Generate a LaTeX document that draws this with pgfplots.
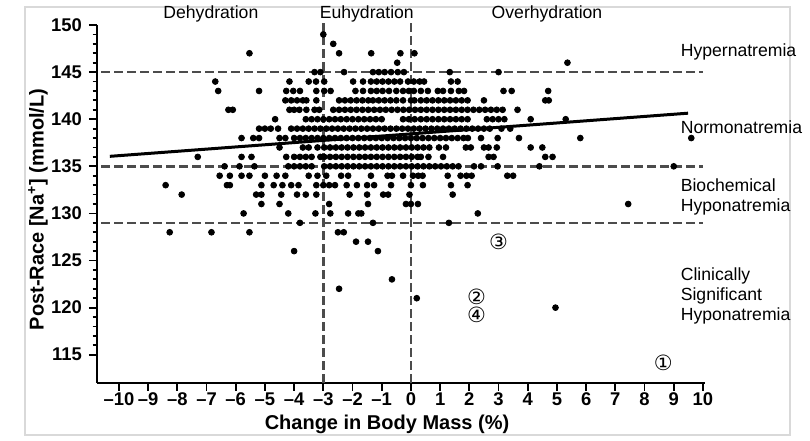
\documentclass[border=0pt]{standalone}
\usepackage{fontspec}
\setmainfont{Liberation Sans}
\newfontfamily\dejavu{DejaVu Sans}
\usepackage{pgfplots}
\pgfplotsset{compat=1.18}

\begin{document}
\begin{tikzpicture}
\path[use as bounding box] (-48.5pt,-28.5pt) rectangle (356.5pt,191.5pt);
\draw[black!15, line width=0.6pt] (-36pt,-26pt) rectangle (346.5pt,188pt);
\begin{axis}[
    at={(0pt,0pt)}, anchor=south west,
    scale only axis, width=304pt, height=179pt,
    xmin=-10.75, xmax=10.07, ymin=112, ymax=150,
    axis lines=left,
    axis line style={-, line width=1.1pt},
    tick align=outside,
    tick style={black, line width=0.9pt},
    major tick length=4pt, minor tick length=2.2pt,
    xtick={-10,-9,...,10},
    xticklabels={\textendash10,\textendash9,\textendash8,\textendash7,\textendash6,\textendash5,\textendash4,\textendash3,\textendash2,\textendash1,0,1,2,3,4,5,6,7,8,9,10},
    ytick={115,120,...,150},
    minor y tick num=4,
    /pgf/number format/assume math mode=true,
    tick label style={font=\bfseries\fontsize{9.2}{10}\selectfont},
    xticklabel style={yshift=2.5pt},
    xlabel={Change in Body Mass (\%)},
    ylabel={Post-Race [Na\textsuperscript{+}] (mmol/L)},
    label style={font=\bfseries\fontsize{10}{12}\selectfont},
    xlabel style={at={(axis description cs:0.477,-0.115)}, anchor=center},
    ylabel style={at={(axis description cs:-0.097,0.485)}, anchor=center},
    clip=false,
]
% participants
\addplot[only marks, mark=*, mark size=1.45pt, black] coordinates {
(-3.0,149)
(-2.66,148)
(-5.53,147) (-2.46,147) (-1.36,147) (-0.36,147) (0.12,147)
(-0.47,146) (5.36,146)
(-3.3,145) (-3.1,145) (-2.29,145) (-1.3,145) (-1.1,145) (-0.9,145) (-0.68,145) (-0.45,145) (-0.24,145) (1.33,145) (3.0,145)
(-6.7,144) (-4.16,144) (-3.5,144) (-3.25,144) (-2.97,144) (-1.98,144) (-1.64,144) (-1.37,144) (-1.17,144) (-0.97,144) (-0.77,144) (-0.57,144) (-0.37,144) (-0.1,144) (0.1,144) (0.3,144) (0.45,144) (1.37,144) (1.6,144)
(-6.6,143) (-5.2,143) (-4.27,143) (-4.03,143) (-3.8,143) (-3.24,143) (-2.97,143) (-2.75,143) (-1.9,143) (-1.64,143) (-1.37,143) (-1.17,143) (-0.97,143) (-0.75,143) (-0.5,143) (-0.27,143) (-0.07,143) (0.1,143) (0.34,143) (0.58,143) (0.92,143) (1.1,143) (1.37,143) (1.64,143) (1.82,143) (3.17,143) (3.45,143) (4.7,143)
(-4.3,142) (-4.1,142) (-3.9,142) (-3.7,142) (-3.58,142) (-3.24,142) (-2.46,142) (-2.26,142) (-2.06,142) (-1.86,142) (-1.66,142) (-1.46,142) (-1.3,142) (-1.1,142) (-0.9,142) (-0.7,142) (-0.5,142) (-0.27,142) (0.0,142) (0.12,142) (0.34,142) (0.54,142) (0.74,142) (0.94,142) (1.14,142) (1.34,142) (1.54,142) (1.74,142) (1.94,142) (2.5,142) (4.6,142) (4.72,142)
(-6.25,141) (-6.1,141) (-4.16,141) (-4.0,141) (-3.82,141) (-3.58,141) (-3.3,141) (-3.14,141)
(-2.66,141) (-2.46,141) (-2.26,141) (-2.06,141) (-1.86,141) (-1.66,141) (-1.46,141) (-1.26,141) (-1.06,141) (-0.86,141) (-0.66,141) (-0.46,141) (-0.26,141) (-0.06,141) (0.14,141) (0.34,141) (0.54,141) (0.74,141) (0.94,141) (1.14,141) (1.34,141) (1.54,141) (1.74,141) (1.94,141) (2.14,141) (2.34,141) (2.54,141) (2.74,141) (2.94,141) (3.14,141) (3.65,141)
(-4.65,140) (-3.6,140) (-3.4,140) (-3.2,140) (-3.0,140) (-2.8,140) (-2.6,140) (-2.4,140) (-2.2,140) (-2.0,140) (-1.8,140) (-1.6,140) (-1.4,140) (-1.2,140) (-1.0,140)
(-0.27,140) (-0.07,140) (0.13,140) (0.34,140) (0.54,140) (0.74,140) (0.94,140) (1.14,140) (1.34,140) (1.54,140) (1.74,140) (1.94,140) (2.6,140) (2.8,140) (3.0,140) (3.2,140) (4.1,140) (5.3,140)
(-5.2,139) (-5.0,139) (-4.8,139) (-4.55,139) (-4.1,139) (-3.9,139) (-3.7,139) (-3.5,139)
(-3.3,139) (-3.1,139) (-2.9,139) (-2.7,139) (-2.5,139) (-2.3,139) (-2.1,139) (-1.9,139) (-1.7,139) (-1.5,139) (-1.3,139) (-1.1,139) (-0.9,139) (-0.7,139) (-0.5,139) (-0.3,139) (-0.1,139) (0.1,139) (0.3,139) (0.5,139) (0.7,139) (0.9,139) (1.1,139) (1.3,139) (1.5,139) (1.7,139) (1.9,139) (2.1,139) (2.3,139) (2.5,139) (2.7,139) (3.1,139) (3.4,139)
(-5.8,138) (-5.4,138) (-5.2,138) (-4.5,138) (-4.3,138)
(-4.0,138) (-3.8,138) (-3.6,138) (-3.4,138) (-3.2,138) (-3.0,138) (-2.8,138) (-2.6,138) (-2.4,138) (-2.2,138) (-2.0,138) (-1.8,138) (-1.6,138) (-1.4,138) (-1.2,138) (-1.0,138) (-0.8,138) (-0.6,138) (-0.4,138) (-0.2,138) (0.0,138) (0.2,138) (0.4,138) (0.6,138) (0.8,138) (1.0,138) (1.2,138) (1.4,138) (1.6,138) (1.8,138) (1.95,138) (2.4,138) (2.97,138) (3.7,138) (5.8,138) (9.6,138)
(-4.5,137) (-3.7,137) (-3.5,137) (-3.2,137)
(-2.97,137) (-2.77,137) (-2.57,137) (-2.37,137) (-2.17,137) (-1.97,137) (-1.77,137) (-1.57,137) (-1.37,137) (-1.17,137) (-0.97,137) (-0.77,137) (-0.57,137) (-0.37,137) (-0.17,137) (0.03,137) (0.23,137) (0.43,137) (0.63,137) (0.96,137) (1.2,137) (1.88,137) (2.05,137) (2.5,137) (2.66,137) (2.94,137) (4.1,137) (4.5,137)
(-7.3,136) (-5.8,136) (-5.46,136) (-4.27,136) (-4.0,136) (-3.8,136) (-3.6,136) (-3.4,136) (-3.1,136)
(-2.97,136) (-2.77,136) (-2.57,136) (-2.37,136) (-2.17,136) (-1.97,136) (-1.77,136) (-1.57,136) (-1.37,136) (-1.17,136) (-0.97,136) (-0.77,136) (-0.57,136) (-0.37,136) (-0.17,136) (0.03,136) (0.23,136) (0.34,136) (0.6,136) (1.1,136) (2.66,136) (2.83,136) (4.6,136) (4.85,136)
(-6.38,135) (-5.87,135) (-5.36,135) (-4.2,135) (-4.0,135) (-3.8,135) (-3.6,135) (-3.4,135)
(-2.97,135) (-2.77,135) (-2.57,135) (-2.37,135) (-2.17,135) (-1.97,135) (-1.77,135) (-1.57,135) (-1.37,135) (-1.17,135) (-0.97,135) (-0.77,135) (-0.57,135) (-0.37,135) (-0.17,135) (0.03,135) (0.23,135) (0.43,135) (0.63,135) (0.83,135) (1.03,135) (1.23,135) (1.43,135) (1.63,135) (2.16,135) (2.4,135) (2.97,135) (4.4,135) (9.0,135)
(-6.55,134) (-6.2,134) (-5.8,134) (-5.53,134) (-5.0,134) (-4.6,134) (-4.3,134) (-3.5,134) (-3.2,134) (-2.9,134) (-2.39,134) (-2.15,134) (-1.37,134) (-0.8,134) (-0.65,134) (-0.27,134) (0.07,134) (0.25,134) (0.4,134) (1.26,134) (1.7,134) (1.9,134) (2.08,134) (3.3,134) (3.5,134)
(-8.4,133) (-6.3,133) (-6.2,133) (-5.12,133) (-4.7,133) (-4.4,133) (-4.1,133) (-3.85,133) (-3.24,133) (-3.0,133) (-2.8,133) (-2.6,133) (-2.2,133) (-1.85,133) (-1.5,133) (-1.26,133) (-0.68,133) (0.0,133) (0.41,133) (1.37,133) (1.94,133)
(-7.85,132) (-5.3,132) (-5.12,132) (-4.44,132) (-3.9,132) (-3.6,132) (-3.24,132) (-2.1,132) (-1.5,132) (-0.95,132) (-0.78,132) (-0.05,132) (1.43,132)
(-5.12,131) (-4.5,131) (-2.8,131) (-1.47,131) (-0.17,131) (0.0,131) (0.24,131) (7.44,131)
(-5.73,130) (-4.2,130) (-3.27,130) (-2.76,130) (-2.15,130) (-1.8,130) (-1.7,130) (2.29,130)
(-3.8,129) (-1.3,129) (1.3,129)
(-8.26,128) (-6.83,128) (-5.53,128) (-2.5,128) (-2.3,128)
(-1.88,127) (-1.47,127)
(-4.0,126) (-1.13,126)
(-0.65,123)
(-2.46,122)
(0.2,121)
(4.95,120)
};
% reference lines
\addplot[black!70, line width=1.2pt, dash pattern=on 4.5pt off 2pt] coordinates {(-10.6,145) (10,145)};
\addplot[black!70, line width=1.2pt, dash pattern=on 4.5pt off 2pt] coordinates {(-10.6,135) (10,135)};
\addplot[black!70, line width=1.2pt, dash pattern=on 4.5pt off 2pt] coordinates {(-10.6,129) (10,129)};
\addplot[black!70, line width=1.2pt, dash pattern=on 4.5pt off 2pt] coordinates {(-3,112) (-3,150.3)};
\addplot[black!70, line width=1.2pt, dash pattern=on 4.5pt off 2pt] coordinates {(0,112) (0,150.3)};
% regression line
\addplot[black, line width=1.5pt] coordinates {(-10.31,136.06) (9.49,140.64)};
% numbered cases
\addplot[draw=none, nodes near coords, point meta=explicit symbolic,
    nodes near coords style={anchor=center, inner sep=0pt, font=\dejavu\fontsize{10.5}{10.5}\selectfont}]
    coordinates {(3.0,127.0) [③] (2.25,121.1) [②] (2.25,119.2) [④] (8.64,114.1) [①]};
% region labels
\begin{scope}[every node/.style={font=\fontsize{8.8}{10}\selectfont}]
\node at (axis cs:-6.85,151.17) {Dehydration};
\node at (axis cs:-1.51,151.17) {Euhydration};
\node at (axis cs:4.66,151.17) {Overhydration};
\node[anchor=west] at (axis cs:9.0,147.1) {Hypernatremia};
\node[anchor=west] at (axis cs:9.0,139.15) {Normonatremia};
\node[anchor=west, align=left] at (axis cs:9.0,131.8) {Biochemical\\Hyponatremia};
\node[anchor=west, align=left] at (axis cs:9.0,121.2) {Clinically\\Significant\\Hyponatremia};
\end{scope}
\end{axis}
\end{tikzpicture}
\end{document}
